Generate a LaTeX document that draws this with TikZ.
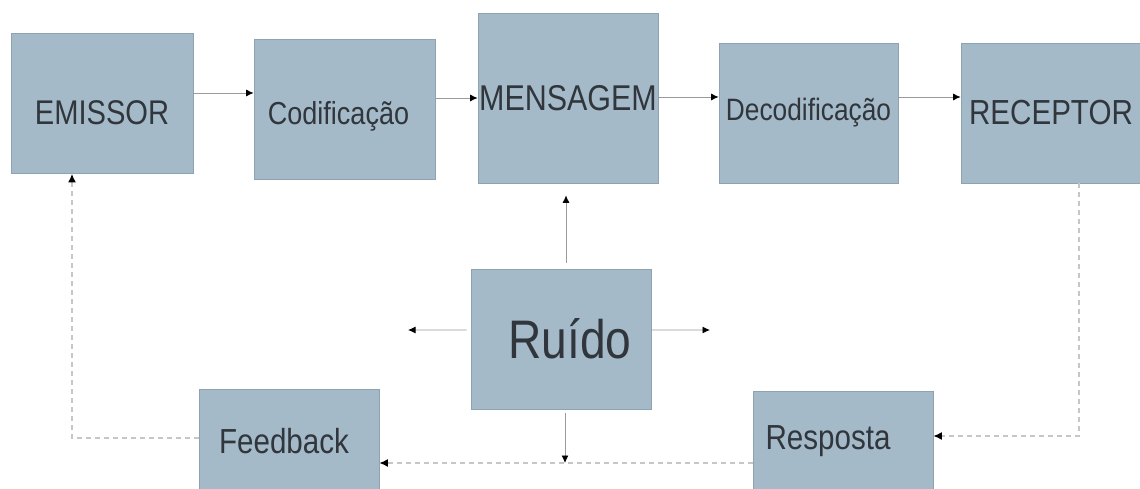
\documentclass[tikz,border=0pt]{standalone}
\usepackage{fontspec}
\setmainfont[FakeStretch=0.85]{Liberation Sans}
\usetikzlibrary{arrows.meta,positioning}

\definecolor{boxfill}{HTML}{A5BAC9}
\definecolor{boxline}{HTML}{8FA2B1}
\definecolor{boxtext}{HTML}{30363C}
\definecolor{solidgray}{HTML}{9A9A9A}
\definecolor{dashgray}{HTML}{C6C6C6}

\begin{document}
\begin{tikzpicture}[
      x=0.02cm, y=-0.02cm,
      box/.style={rectangle, draw=boxline, line width=0.4pt, fill=boxfill,
          text=boxtext, inner sep=0pt, minimum width=3.6cm, minimum height=2.8cm},
      fs/.style={font=\fontsize{#1}{#1}\selectfont},
      flow/.style={-{Latex[length=1.5mm,width=1.4mm,color=black]}, draw=solidgray, line width=0.5pt},
      back/.style={-{Latex[length=1.7mm,width=1.6mm,color=black]}, draw=dashgray, line width=0.9pt,
          dash pattern=on 1mm off 0.8mm}
  ]
  \useasboundingbox (0,0) rectangle (1140,489);
  \clip (0,0) rectangle (1140,489);
  % top row
  \node[box, fs=19.5, minimum width=3.64cm, text height=0.84cm, text depth=0cm] (emissor) at (102,103.5) {EMISSOR};
  \node[box, fs=18.1, minimum width=3.62cm, text height=0.74cm, text depth=0.15cm] (codif) at (344.5,109.5) {Codificação\hspace{0.24cm}\mbox{}};
  \node[box, fs=20.4, minimum height=3.4cm] (mensagem) at (568,98) {MENSAGEM};
  \node[box, fs=17.6, minimum width=3.58cm] (decodif) at (808.5,113) {Decodificação};
  \node[box, fs=19.8] (receptor) at (1051,113) {RECEPTOR};
  % noise and feedback
  \node[box, fs=30.9] (ruido) at (561,339) {\mbox{}\hspace{0.36cm}Ruído};
  \node[box, fs=19.8, minimum height=2.08cm] (feedback) at (289,441) {Feedback\hspace{0.2cm}\mbox{}};
  \node[box, fs=19.8, minimum height=2cm] (resposta) at (843,441) {Resposta\hspace{0.6cm}\mbox{}};
  \coordinate (rl) at (408,330);
  \coordinate (rr) at (710,330);
  \coordinate (rd) at (565,463);

  \draw[flow] ([yshift=2.1mm]emissor.east) -- ([yshift=2.1mm]emissor.east -| codif.west);
  \draw[flow] ([yshift=2.3mm]codif.east) -- ([yshift=2.3mm]codif.east -| mensagem.west);
  \draw[flow] ([yshift=0.2mm]mensagem.east) -- ([yshift=0.2mm]mensagem.east -| decodif.west);
  \draw[flow] ([yshift=3.2mm]decodif.east) -- ([yshift=3.2mm]decodif.east -| receptor.west);

  \draw[flow, shorten <=1.2mm, shorten >=2.4mm] ([xshift=1mm]ruido.north) -- ([xshift=1mm]ruido.north |- mensagem.south);
  \draw[flow, shorten <=0.8mm] ([yshift=1.8mm]ruido.west) -- (rl);
  \draw[flow] ([yshift=1.8mm]ruido.east) -- (rr);
  \draw[flow, shorten <=0.8mm] (ruido.south -| rd) -- (rd);

  \draw[back] ([xshift=5.6mm]receptor.south) |- ([yshift=1mm]resposta.east);
  \draw[back] ([yshift=-4.4mm]resposta.west) -- ([yshift=-4.4mm]resposta.west -| feedback.east);
  \draw[back] ([yshift=0.6mm]feedback.west) -| ([xshift=-6mm]emissor.south);
\end{tikzpicture}
\end{document}
